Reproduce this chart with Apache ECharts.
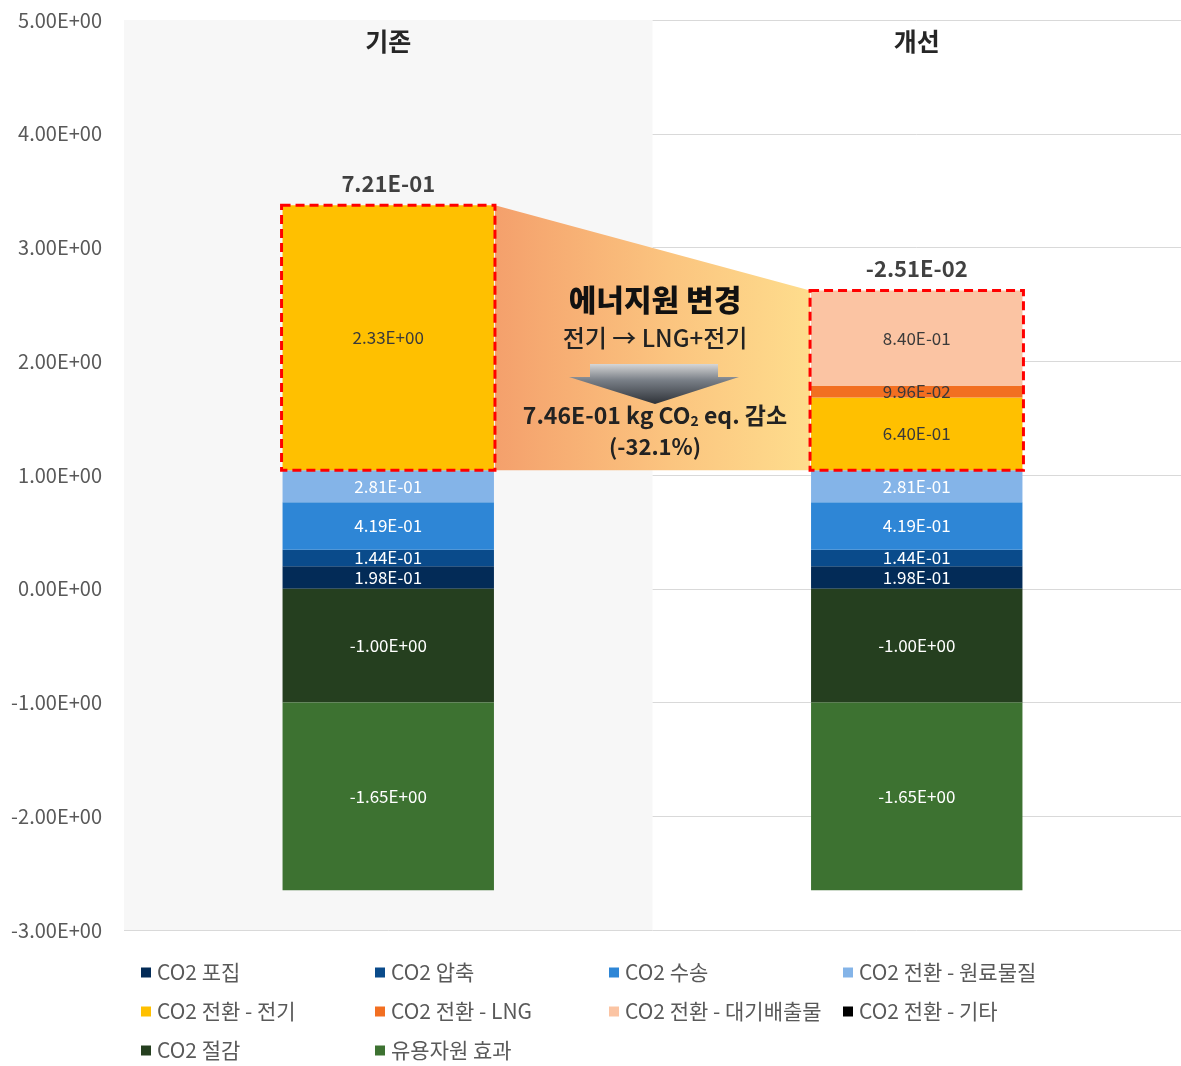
<!DOCTYPE html>
<html>
<head>
<meta charset="utf-8">
<script src="https://cdn.jsdelivr.net/npm/echarts@6/dist/echarts.min.js"></script>
<style>
  html, body { margin: 0; padding: 0; background: #ffffff; }
  #chart { width: 1181px; height: 1066px; }
</style>
</head>
<body>
<div id="chart"></div>
<script>
// Categories and per-stage CO2 values (kg CO2 eq.)
const categories = ['기존', '개선'];
const capture = [0.198, 0.198];       // CO2 포집
const compress = [0.144, 0.144];      // CO2 압축
const transport = [0.419, 0.419];     // CO2 수송
const feedstock = [0.281, 0.281];     // CO2 전환 - 원료물질
const power = [2.33, 0.640];          // CO2 전환 - 전기
const lng = [0, 0.0996];              // CO2 전환 - LNG
const airEmission = [0, 0.840];       // CO2 전환 - 대기배출물
const other = [0, 0];                 // CO2 전환 - 기타
const reduction = [-1.00, -1.00];     // CO2 절감
const resource = [-1.65, -1.65];      // 유용자원 효과
const netTotals = [0.721, -0.0251];   // net result per case

const seriesNames = ['CO2 포집', 'CO2 압축', 'CO2 수송', 'CO2 전환 - 원료물질',
  'CO2 전환 - 전기', 'CO2 전환 - LNG', 'CO2 전환 - 대기배출물', 'CO2 전환 - 기타',
  'CO2 절감', '유용자원 효과'];
const seriesValues = [capture, compress, transport, feedstock, power, lng,
  airEmission, other, reduction, resource];
const seriesColors = ['#032b57', '#0a4b8b', '#2e86d6', '#84b4e8', '#ffc000',
  '#f26f21', '#fbc4a3', '#000000', '#253f1f', '#3d7231'];
const labelColors = ['#ffffff', '#ffffff', '#ffffff', '#ffffff', '#3a3a3a',
  '#3a3a3a', '#3a3a3a', '#ffffff', '#ffffff', '#ffffff'];

const FONT = '"Noto Sans CJK KR", "Noto Sans", sans-serif';

function sci(v) {
  const s = Number(v).toExponential(2);
  const parts = s.split('e');
  const sign = parts[1][0];
  const digits = parts[1].slice(1).padStart(2, '0');
  return parts[0] + 'E' + sign + digits;
}

// stack helpers
const baseOf = i => capture[i] + compress[i] + transport[i] + feedstock[i];
const topOf = i => baseOf(i) + power[i] + lng[i] + airEmission[i] + other[i];

const barSeries = seriesNames.map((name, k) => ({
  name: name,
  type: 'bar',
  stack: 'total',
  barWidth: '40%',
  data: seriesValues[k],
  itemStyle: { color: seriesColors[k] },
  label: {
    show: true,
    position: 'inside',
    color: labelColors[k],
    fontFamily: FONT,
    fontSize: 17,
    formatter: p => (p.value === 0 ? '' : sci(p.value))
  },
  emphasis: { disabled: true },
  z: 2
}));

// highlighted energy block + connecting band between the two cases
const energySeries = {
  type: 'custom',
  name: 'energy',
  data: [[0, 0]],
  encode: { x: 0, y: 1 },
  z: 6,
  silent: true,
  renderItem: function (params, api) {
    const band = api.size([1, 0])[0];
    const bw = band * 0.4;
    const boxes = [0, 1].map(i => {
      const t = api.coord([i, topOf(i)]);
      const b = api.coord([i, baseOf(i)]);
      return { x: t[0] - bw / 2, y: t[1], w: bw, h: b[1] - t[1] };
    });
    const b0 = boxes[0], b1 = boxes[1];
    const baseY = b0.y + b0.h;
    const children = [
      {
        type: 'polygon',
        z2: 0,
        shape: { points: [[b0.x + b0.w + 1, b0.y], [b1.x - 1, b1.y], [b1.x - 1, baseY], [b0.x + b0.w + 1, baseY]] },
        style: {
          fill: new echarts.graphic.LinearGradient(0, 0, 1, 0, [
            { offset: 0, color: '#f4a06c' },
            { offset: 0.55, color: '#fbc47f' },
            { offset: 1, color: '#fedd8d' }
          ])
        }
      }
    ];
    boxes.forEach(bx => {
      children.push({
        type: 'rect',
        z2: 2,
        shape: { x: bx.x - 1, y: bx.y, width: bx.w + 2, height: bx.h },
        style: { fill: 'none', stroke: '#ff0000', lineWidth: 3, lineDash: [9, 5] }
      });
    });
    return { type: 'group', children: children };
  }
};

// net result labels on top of each positive stack
const totalSeries = {
  type: 'scatter',
  name: 'net',
  data: [[0, topOf(0)], [1, topOf(1)]],
  symbolSize: 1,
  itemStyle: { color: 'rgba(0,0,0,0)' },
  silent: true,
  z: 7,
  label: {
    show: true,
    position: 'top',
    distance: 10,
    color: '#111111',
    fontFamily: FONT,
    fontWeight: 'bold',
    fontSize: 22,
    formatter: p => sci(netTotals[p.dataIndex])
  }
};

// one legend per entry, laid out in four columns
const legends = seriesNames.map((name, k) => ({
  data: [name],
  left: 141 + (k % 4) * 234,
  top: 962 + Math.floor(k / 4) * 39,
  padding: 0,
  icon: 'rect',
  itemWidth: 10,
  itemHeight: 10,
  itemGap: 0,
  selectedMode: false,
  textStyle: { color: '#595959', fontFamily: FONT, fontSize: 21, padding: [0, 0, 0, 1] }
}));

const chart = echarts.init(document.getElementById('chart'));
chart.setOption({
  animation: false,
  backgroundColor: '#ffffff',
  grid: { left: 124, right: -1, top: 20, bottom: 136 },
  legend: legends,
  xAxis: {
    type: 'category',
    position: 'top',
    data: categories,
    axisLine: { show: false },
    axisTick: { show: false },
    splitArea: { show: true, areaStyle: { color: ['#f7f7f7', 'rgba(255,255,255,0)'] } },
    axisLabel: {
      inside: true,
      margin: 9,
      color: '#262626',
      fontFamily: FONT,
      fontWeight: 'bold',
      fontSize: 25
    }
  },
  yAxis: {
    type: 'value',
    min: -3,
    max: 5,
    interval: 1,
    axisLine: { show: false },
    axisTick: { show: false },
    splitLine: { lineStyle: { color: '#d9d9d9', width: 1 } },
    axisLabel: {
      color: '#595959',
      fontFamily: FONT,
      fontSize: 20,
      margin: 22,
      formatter: v => sci(v)
    }
  },
  graphic: [
    {
      type: 'polygon',
      z: 100,
      shape: { points: [[590, 364], [718, 364], [718, 377], [739, 377], [655, 404], [569, 377], [590, 377]] },
      style: {
        fill: new echarts.graphic.LinearGradient(0, 0, 0, 1, [
          { offset: 0, color: '#d6d6d6' },
          { offset: 0.4, color: '#7a8088' },
          { offset: 1, color: '#2e3238' }
        ])
      }
    },
    {
      type: 'text', z: 100,
      x: 655, y: 300,
      style: { text: '에너지원 변경', fill: '#111111', font: '900 30px ' + FONT, textAlign: 'center', textVerticalAlign: 'middle' }
    },
    {
      type: 'text', z: 100,
      x: 655, y: 338,
      style: { text: '전기 → LNG+전기', fill: '#222222', font: '500 24px ' + FONT, textAlign: 'center', textVerticalAlign: 'middle' }
    },
    {
      type: 'text', z: 100,
      x: 655, y: 415,
      style: {
        text: '{a|7.46E-01 kg CO}{s|2}{a| eq. 감소}',
        textAlign: 'center',
        textVerticalAlign: 'middle',
        rich: {
          a: { fill: '#222222', font: 'bold 23px ' + FONT },
          s: { fill: '#222222', font: 'bold 14px ' + FONT, padding: [12, 0, 0, 0] }
        }
      }
    },
    {
      type: 'text', z: 100,
      x: 655, y: 447,
      style: { text: '(-32.1%)', fill: '#222222', font: 'bold 22px ' + FONT, textAlign: 'center', textVerticalAlign: 'middle' }
    }
  ],
  series: barSeries.concat([energySeries, totalSeries])
});
</script>
</body>
</html>
